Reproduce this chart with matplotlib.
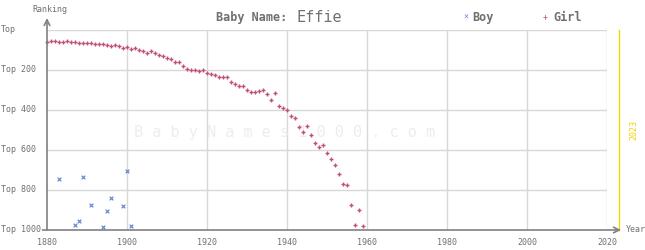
import numpy as np
import matplotlib.pyplot as plt

# Girl rankings (year, rank)
girl_years = list(range(1880, 1960))
girl_ranks = [62, 57, 57, 62, 62, 57, 62, 62, 67, 67,
              67, 67, 72, 72, 72, 77, 82, 77, 82, 92,
              87, 97, 92, 102, 107, 117, 107, 117, 127, 132,
              142, 147, 162, 162, 182, 197, 202, 202, 207, 202,
              217, 222, 227, 237, 237, 237, 262, 272, 282, 282,
              302, 312, 312, 307, 302, 322, 352, 317, 382, 392,
              402, 432, 442, 487, 512, 482, 527, 567, 587, 577,
              617, 647, 677, 722, 772, 777, 877, 977, 902, 982]

# Boy rankings
boy_years = [1883, 1887, 1888, 1889, 1891, 1894, 1895, 1896, 1899, 1900, 1901]
boy_ranks = [747, 977, 957, 737, 877, 987, 907, 842, 882, 707, 982]

x_ticks = [1880, 1900, 1920, 1940, 1960, 1980, 2000, 2020]
y_ticks = [0, 200, 400, 600, 800, 1000]
y_labels = ['Top', 'Top 200', 'Top 400', 'Top 600', 'Top 800', 'Top 1000']

grid_c = '#d8d8d8'
axis_c = '#808080'
text_c = '#707070'
girl_c = '#c05078'
boy_c = '#6a8ad0'
mono = 'DejaVu Sans Mono'

fig = plt.figure(figsize=(6.45, 2.5), dpi=100)
ax = fig.add_axes([47/645, 1 - 230/250, 560/645, 200/250])
ax.set_xlim(1880, 2020)
ax.set_ylim(1000, 0)

for s in ax.spines.values():
    s.set_visible(False)

# grid
for xv in x_ticks[1:]:
    ax.axvline(xv, color=grid_c, lw=1, zorder=0)
for yv in y_ticks[:-1]:
    ax.axhline(yv, color=grid_c, lw=1, zorder=0)

# watermark
ax.text(0.424, 0.49, ' '.join('BabyNames1000.com'), transform=ax.transAxes,
        ha='center', va='center', fontsize=11, color='#ededed', family=mono, zorder=0)

# data
ax.scatter(girl_years, girl_ranks, marker='+', s=10, color=girl_c, linewidths=1, zorder=3, clip_on=False)
ax.scatter(boy_years, boy_ranks, marker='x', s=7, color=boy_c, linewidths=0.9, zorder=3, clip_on=False)

# axes with arrows
ax.annotate('', xy=(0, 1.06), xytext=(0, 0), xycoords='axes fraction',
            arrowprops=dict(arrowstyle='->', color=axis_c, lw=1.2, shrinkA=0, shrinkB=0))
ax.annotate('', xy=(1.025, 0), xytext=(-0.008, 0), xycoords='axes fraction',
            arrowprops=dict(arrowstyle='->', color=axis_c, lw=1.2, shrinkA=0, shrinkB=0))
fig.text(32/645, 1 - 9/250, 'Ranking', fontsize=6, color=text_c, family=mono, va='center')
fig.text(626/645, 1 - 230/250, 'Year', fontsize=6, color=text_c, family=mono, va='center')

# 2023 line
ax.axvline(2023, color='#f5d800', lw=1, clip_on=False, zorder=1)
ax.text(2025.5, 500, '2023', rotation=90, color='#f0d000', fontsize=6, family=mono,
        ha='left', va='center', clip_on=False)

# ticks
ax.set_xticks(x_ticks)
ax.set_yticks(y_ticks)
ax.set_yticklabels([])
ax.tick_params(length=0, labelsize=6, colors=text_c, pad=6)
for lbl in ax.get_xticklabels():
    lbl.set_family(mono)
for yv, lab in zip(y_ticks, y_labels):
    fig.text(1/645, 1 - (30 + yv * 0.2)/250, lab, fontsize=6, color=text_c, family=mono, va='center')

# title
fig.text(216/645, 1 - 17/250, 'Baby Name:', fontsize=8.5, fontweight='bold', color=text_c,
         family=mono, va='center')
fig.text(296/645, 1 - 17/250, 'Effie', fontsize=11, color=text_c, family=mono, va='center')

# legend
fig.text(463/645, 1 - 17/250, '\u00d7', fontsize=6, color=boy_c, family=mono, va='center')
fig.text(472/645, 1 - 17/250, 'Boy', fontsize=8.5, fontweight='bold', color=text_c, family=mono, va='center')
fig.text(543/645, 1 - 17/250, '+', fontsize=6, color=girl_c, family=mono, va='center')
fig.text(553/645, 1 - 17/250, 'Girl', fontsize=8.5, fontweight='bold', color=text_c, family=mono, va='center')

fig.savefig('out.png', dpi=100)
